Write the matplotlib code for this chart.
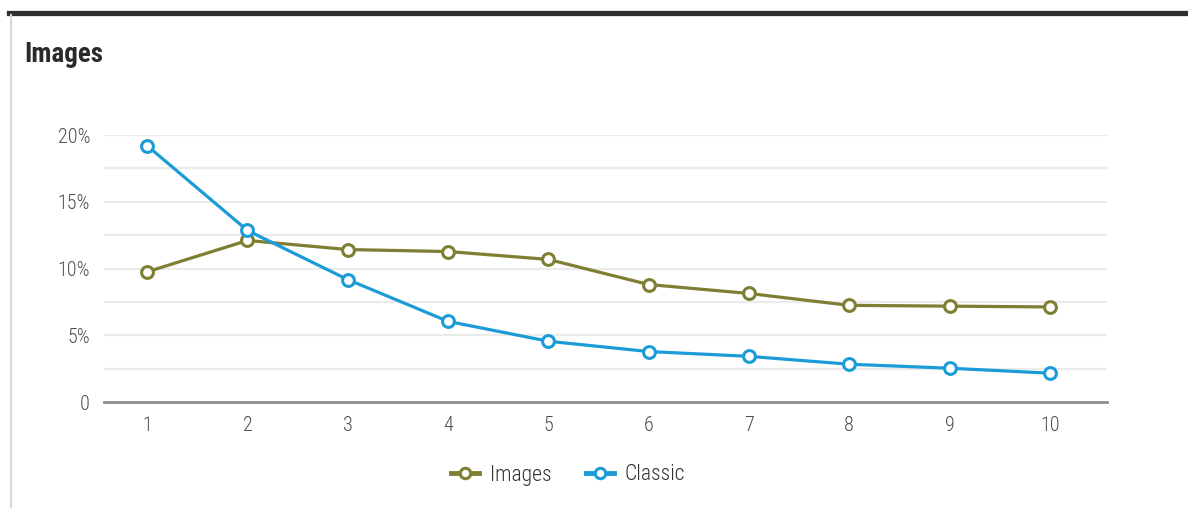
import matplotlib
matplotlib.use("Agg")
import matplotlib.pyplot as plt
from matplotlib import font_manager
from matplotlib.lines import Line2D

# prefer a condensed face; fall back to the condensed cut of DejaVu
fonts = font_manager.fontManager.ttflist
names = {f.name for f in fonts}
FONT, STRETCH = "Roboto", "normal"
for cand in ["Roboto Condensed", "Liberation Sans Narrow", "Open Sans Condensed"]:
    if cand in names:
        FONT, STRETCH = cand, "normal"
        break
else:
    if any(f.name == "DejaVu Sans" and f.stretch == "condensed" for f in fonts):
        FONT, STRETCH = "DejaVu Sans", "condensed"
plt.rcParams["font.family"] = [FONT, "DejaVu Sans"]
plt.rcParams["font.stretch"] = STRETCH

positions = [1, 2, 3, 4, 5, 6, 7, 8, 9, 10]
images = [9.75, 12.1, 11.42, 11.27, 10.68, 8.8, 8.13, 7.24, 7.18, 7.12]
classic = [19.2, 12.85, 9.17, 6.04, 4.55, 3.78, 3.42, 2.83, 2.53, 2.16]
yticks = [0, 5, 10, 15, 20]
ytick_labels = ["0", "5%", "10%", "15%", "20%"]

OLIVE = "#7e7f32"
BLUE = "#1b9bd7"

W, H = 1188, 508
fig = plt.figure(figsize=(W / 100, H / 100), dpi=100)

# dark band across the top and thin frame on the left
fig.add_artist(Line2D([9 / W, 1], [1 - 12.5 / H] * 2, color="#2d2f2e", lw=3.8))
fig.add_artist(Line2D([10.5 / W] * 2, [0, 1 - 14.5 / H], color="#d8d8d8", lw=1.5))

fig.text(24 / W, 1 - 55 / H, "Images", fontsize=19.5, fontweight="bold",
         color="#2b2b2b", va="center", ha="left")

ax = fig.add_axes([104 / W, 1 - 402 / H, (1107 - 104) / W, (402 - 135) / H])
ax.set_xlim(0.57, 10.57)
ax.set_ylim(0, 20)

for g in [2.5, 5, 7.5, 10, 12.5, 15, 17.5, 20]:
    ax.axhline(g, color="#ebebeb", lw=1.6, zorder=0)

mk = dict(marker="o", markersize=8.5, markerfacecolor="white",
          markeredgewidth=2.2, lw=2.3, clip_on=False, zorder=3)
ax.plot(positions, images, color=OLIVE, label="Images", **mk)
ax.plot(positions, classic, color=BLUE, label="Classic", **mk)

for s in ["top", "right", "left"]:
    ax.spines[s].set_visible(False)
ax.spines["bottom"].set_color("#8c8c8c")
ax.spines["bottom"].set_linewidth(2)

ax.set_xticks(positions)
ax.set_xticklabels([str(p) for p in positions])
ax.set_yticks(yticks)
ax.set_yticklabels(ytick_labels)
ax.tick_params(axis="both", length=0, labelsize=14.5, labelcolor="#4d4d4d")
ax.tick_params(axis="x", pad=10)
ax.tick_params(axis="y", pad=10)
for lbl in ax.get_xticklabels() + ax.get_yticklabels():
    lbl.set_fontweight("light")

# legend keys: short thick line with a hollow dot
handles = [Line2D([], [], color=c, lw=3.5, marker="o", markersize=7.5,
                  markerfacecolor="white", markeredgewidth=2.2)
           for c in (OLIVE, BLUE)]
leg = fig.legend(handles, ["Images", "Classic"], loc="center",
                 bbox_to_anchor=(568 / W, 1 - 475 / H), ncol=2,
                 frameon=False, fontsize=15.5, handlelength=1.3,
                 columnspacing=1.6, handletextpad=0.5)
for t in leg.get_texts():
    t.set_color("#333333")
    t.set_fontweight("light")

fig.savefig("out.png", dpi=100)
